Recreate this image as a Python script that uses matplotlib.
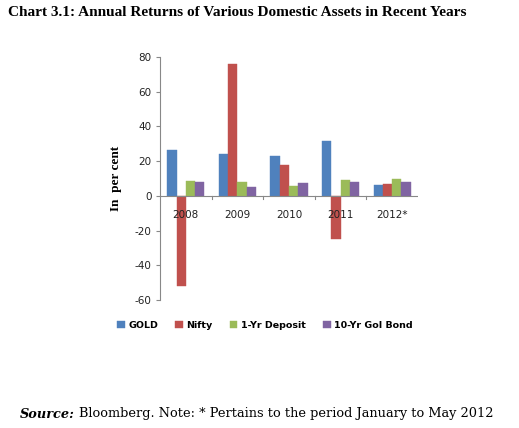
import matplotlib
matplotlib.use("Agg")
import matplotlib.pyplot as plt
import numpy as np

years = ["2008", "2009", "2010", "2011", "2012*"]
series_names = ["GOLD", "Nifty", "1-Yr Deposit", "10-Yr GoI Bond"]
gold = [26.4, 23.9, 23.0, 31.8, 6.5]
nifty = [-52.1, 75.8, 18.0, -24.7, 7.1]
deposit = [8.8, 8.2, 5.7, 9.4, 9.6]
bond = [7.7, 5.0, 7.3, 7.8, 8.2]
yticks = [-60, -40, -20, 0, 20, 40, 60, 80]

colors = ["#4F81BD", "#C0504D", "#9BBB59", "#8064A2"]

fig = plt.figure(figsize=(5.19, 4.28), dpi=100)
ax = fig.add_axes([160/519, 1 - 300/428, 258/519, 243/428])

x = np.arange(len(years))
w = 0.18
data = [gold, nifty, deposit, bond]
for i, (vals, c, n) in enumerate(zip(data, colors, series_names)):
    ax.bar(x + (i - 1.5) * w, vals, w, color=c, label=n, edgecolor=c, linewidth=0.3)

ax.set_xlim(-0.5, len(years) - 0.5)
ax.set_ylim(-60, 80)
ax.set_yticks(yticks)
ax.set_yticklabels([str(v) for v in yticks], fontsize=7.5, color="#222222")
ax.tick_params(axis="y", length=3, color="#888888", pad=3)

for s in ["top", "right", "bottom"]:
    ax.spines[s].set_visible(False)
ax.spines["left"].set_color("#888888")
ax.axhline(0, color="#888888", linewidth=0.8)
ax.set_xticks([])
for xi in np.arange(0.5, len(years) - 0.5, 1.0):
    ax.plot([xi, xi], [0, -1.8], color="#888888", linewidth=0.8, clip_on=False)
for xi, lab in zip(x, years):
    ax.text(xi, -8.3, lab, ha="center", va="top", fontsize=7.5, color="#222222")

ax.set_ylabel("In  per cent", fontsize=9.5, fontweight="bold", family="Liberation Serif", labelpad=9)

leg = fig.legend(loc="center", bbox_to_anchor=(265/519, 1 - 325/428), ncol=4, frameon=False,
                 prop={"size": 6.8, "weight": "bold"}, handlelength=0.8, handleheight=0.8,
                 handletextpad=0.4, columnspacing=1.8)

fig.text(8/519, 1 - 12/428, "Chart 3.1: Annual Returns of Various Domestic Assets in Recent Years",
         fontsize=11, fontweight="bold", family="Liberation Serif", va="center", ha="left")

t1 = fig.text(20/519, 1 - 414/428, "Source:", fontsize=9.3, fontweight="bold", style="italic",
              family="DejaVu Serif", va="center", ha="left")
fig.canvas.draw()
bb = t1.get_window_extent()
fig.text((bb.x1 + 4) / 519, 1 - 414/428,
         "Bloomberg. Note: * Pertains to the period January to May 2012",
         fontsize=9.3, family="DejaVu Serif", va="center", ha="left")

fig.savefig("out.png", dpi=100)
